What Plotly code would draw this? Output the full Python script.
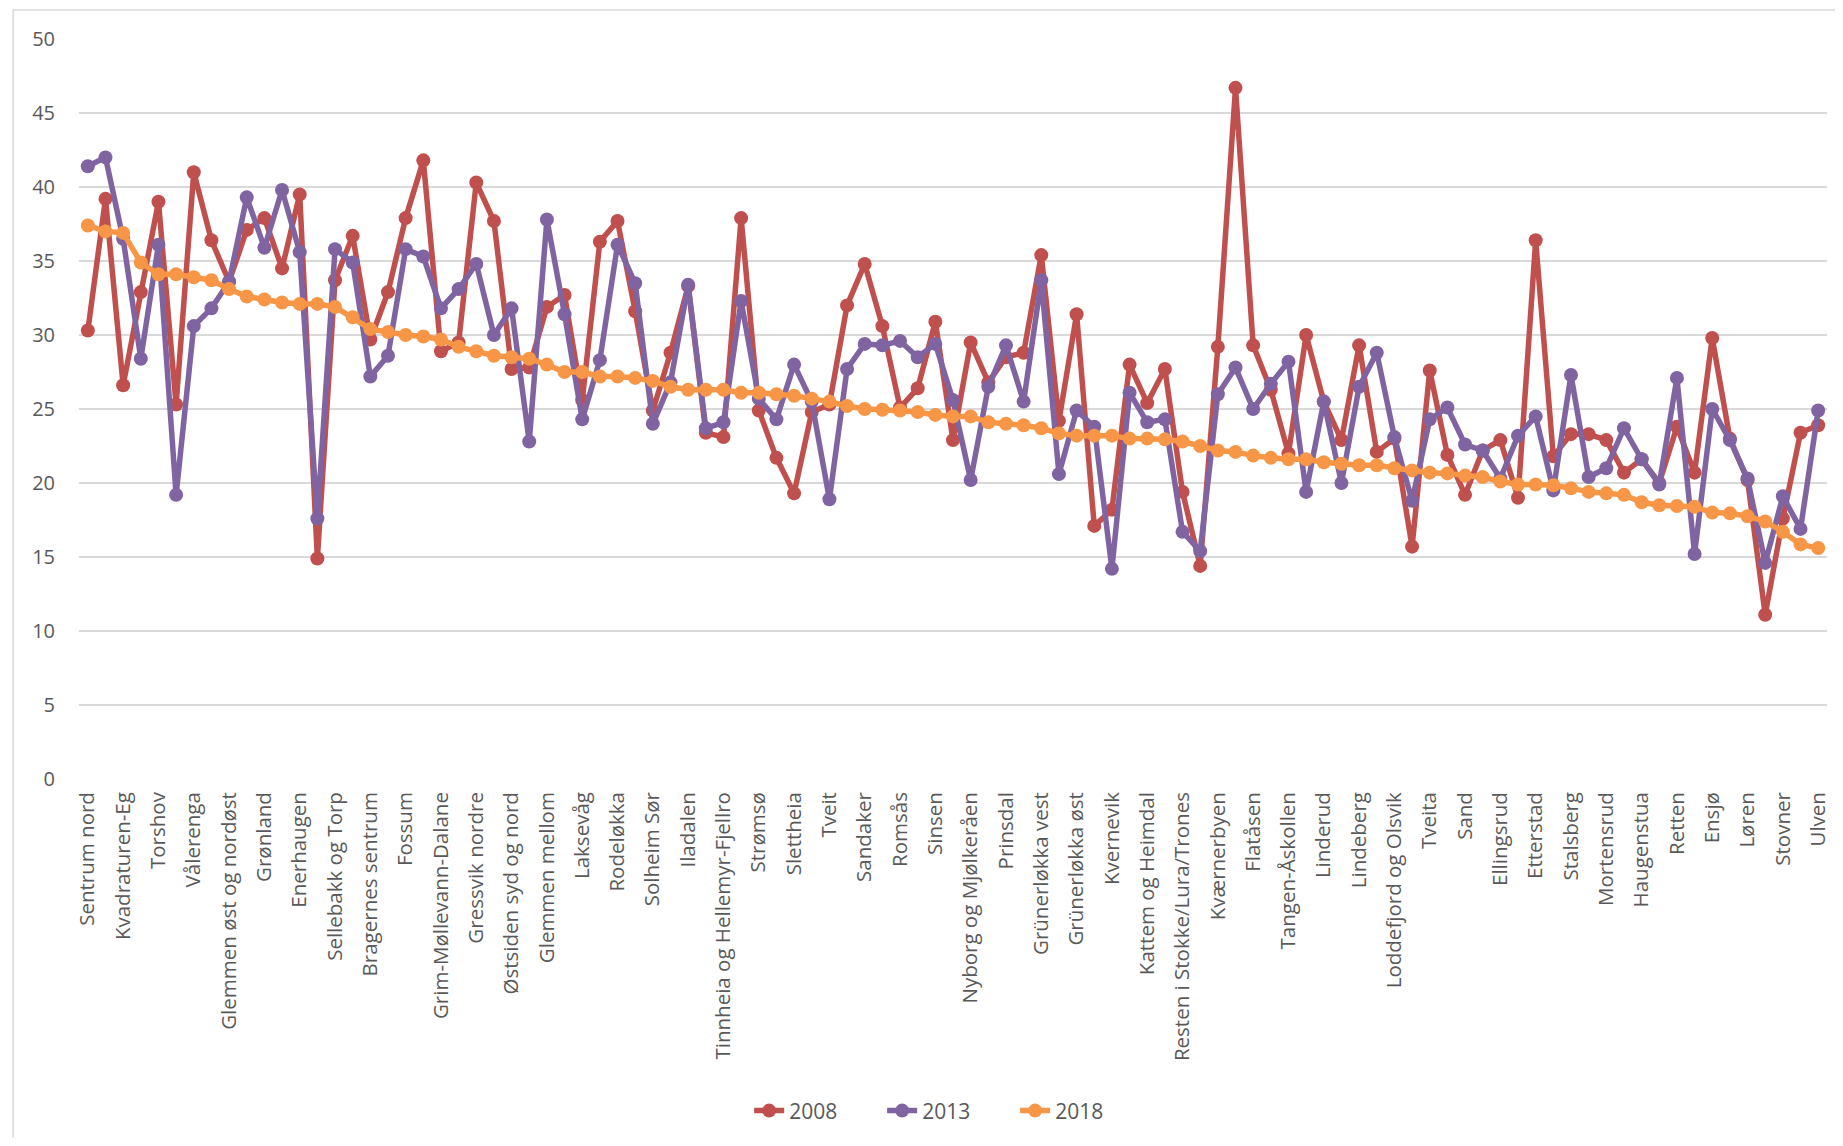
import plotly.graph_objects as go

tick_labels = [
    "Sentrum nord", "Kvadraturen-Eg", "Torshov", "Vålerenga", "Glemmen øst og nordøst",
    "Grønland", "Enerhaugen", "Sellebakk og Torp", "Bragernes sentrum", "Fossum",
    "Grim-Møllevann-Dalane", "Gressvik nordre", "Østsiden syd og nord", "Glemmen mellom", "Laksevåg",
    "Rodeløkka", "Solheim Sør", "Iladalen", "Tinnheia og Hellemyr-Fjellro", "Strømsø",
    "Slettheia", "Tveit", "Sandaker", "Romsås", "Sinsen",
    "Nyborg og Mjølkeråen", "Prinsdal", "Grünerløkka vest", "Grünerløkka øst", "Kvernevik",
    "Kattem og Heimdal", "Resten i Stokke/Lura/Trones", "Kværnerbyen", "Flatåsen", "Tangen-Åskollen",
    "Linderud", "Lindeberg", "Loddefjord og Olsvik", "Tveita", "Sand",
    "Ellingsrud", "Etterstad", "Stalsberg", "Mortensrud", "Haugenstua",
    "Retten", "Ensjø", "Løren", "Stovner", "Ulven",
]

v2008 = [30.3, 39.2, 26.6, 32.9, 39.0, 25.3, 41.0, 36.4, 33.6, 37.1,
         37.9, 34.5, 39.5, 14.9, 33.7, 36.7, 29.7, 32.9, 37.9, 41.8,
         28.9, 29.5, 40.3, 37.7, 27.7, 27.8, 31.9, 32.7, 25.6, 36.3,
         37.7, 31.6, 24.9, 28.8, 33.3, 23.4, 23.1, 37.9, 24.9, 21.7,
         19.3, 24.8, 25.3, 32.0, 34.8, 30.6, 25.1, 26.4, 30.9, 22.9,
         29.5, 26.8, 28.5, 28.8, 35.4, 24.2, 31.4, 17.1, 18.2, 28.0,
         25.4, 27.7, 19.4, 14.4, 29.2, 46.7, 29.3, 26.3, 22.0, 30.0,
         25.5, 22.9, 29.3, 22.1, 23.0, 15.7, 27.6, 21.9, 19.2, 22.2,
         22.9, 19.0, 36.4, 21.8, 23.3, 23.3, 22.9, 20.7, 21.6, 20.0,
         23.8, 20.7, 29.8, 23.0, 20.2, 11.1, 17.6, 23.4, 23.9]

v2013 = [41.4, 42.0, 36.5, 28.4, 36.1, 19.2, 30.6, 31.8, 33.6, 39.3,
         35.9, 39.8, 35.6, 17.6, 35.8, 34.9, 27.2, 28.6, 35.8, 35.3,
         31.8, 33.1, 34.8, 30.0, 31.8, 22.8, 37.8, 31.4, 24.3, 28.3,
         36.1, 33.5, 24.0, 26.8, 33.4, 23.7, 24.1, 32.3, 25.7, 24.3,
         28.0, 25.5, 18.9, 27.7, 29.4, 29.3, 29.6, 28.5, 29.4, 25.6,
         20.2, 26.5, 29.3, 25.5, 33.7, 20.6, 24.9, 23.8, 14.2, 26.1,
         24.1, 24.3, 16.7, 15.4, 26.0, 27.8, 25.0, 26.7, 28.2, 19.4,
         25.5, 20.0, 26.5, 28.8, 23.1, 18.8, 24.3, 25.1, 22.6, 22.2,
         20.3, 23.2, 24.5, 19.5, 27.3, 20.4, 21.0, 23.7, 21.6, 19.9,
         27.1, 15.2, 25.0, 22.9, 20.3, 14.6, 19.1, 16.9, 24.9]

v2018 = [37.4, 37.0, 36.9, 34.9, 34.1, 34.1, 33.9, 33.7, 33.1, 32.6,
         32.4, 32.2, 32.1, 32.1, 31.9, 31.2, 30.4, 30.2, 30.0, 29.9,
         29.7, 29.2, 28.9, 28.6, 28.5, 28.4, 28.0, 27.5, 27.5, 27.2,
         27.2, 27.1, 26.9, 26.5, 26.3, 26.3, 26.3, 26.1, 26.1, 26.0,
         25.9, 25.7, 25.5, 25.2, 25.0, 24.95, 24.9, 24.8, 24.6, 24.5,
         24.5, 24.1, 24.0, 23.9, 23.7, 23.35, 23.2, 23.2, 23.2, 23.0,
         23.0, 22.95, 22.8, 22.5, 22.2, 22.1, 21.85, 21.7, 21.6, 21.6,
         21.4, 21.3, 21.2, 21.2, 21.0, 20.85, 20.7, 20.65, 20.5, 20.4,
         20.1, 19.9, 19.9, 19.85, 19.65, 19.4, 19.3, 19.2, 18.7, 18.5,
         18.45, 18.4, 18.0, 17.95, 17.75, 17.4, 16.7, 15.85, 15.6]

series = [("2008", v2008, "#C0504D"), ("2013", v2013, "#8064A2"), ("2018", v2018, "#F79646")]

x = list(range(len(v2008)))
tickvals = x[::2]

FONT = "Open Sans"
TXT = "#595959"

fig = go.Figure()
for name, vals, col in series:
    fig.add_trace(go.Scatter(
        x=x, y=vals, name=name, mode="lines+markers",
        line=dict(color=col, width=5.5),
        marker=dict(color=col, size=14, symbol="circle"),
    ))

# page has an 8px body margin; figure sized to fit inside the window
OFF = 8
W, H = 1843 - 2 * OFF, 1146 - 2 * OFF
L, T = 79 - OFF, 39 - OFF
R = W - (1831 - OFF)
B = H - (779 - OFF)
pw = W - L - R
ph = H - T - B

fig.update_layout(
    width=W, height=H, autosize=False,
    margin=dict(l=L, r=R, t=T, b=B),
    paper_bgcolor="white", plot_bgcolor="white",
    font=dict(family=FONT, size=19, color=TXT),
    showlegend=True,
    legend=dict(orientation="h", x=0.4975, xanchor="center", y=-0.4486, yanchor="middle",
                font=dict(size=21, color=TXT), entrywidth=88, entrywidthmode="pixels",
                traceorder="normal"),
    xaxis=dict(range=[-0.5, len(x) - 0.5], tickmode="array", tickvals=tickvals,
               ticktext=tick_labels, tickangle=-90, showgrid=False, zeroline=False,
               showline=False, ticks="", tickfont=dict(size=20.5, color=TXT),
               ticklabelstandoff=8, fixedrange=True),
    yaxis=dict(range=[0, 50], tickvals=list(range(0, 51, 5)), showgrid=True,
               gridcolor="#d9d9d9", gridwidth=1.5, zeroline=False, showline=False,
               ticks="", tickfont=dict(size=20, color=TXT), ticklabelstandoff=23),
)

# outer chart-area border (left/top visible; right/bottom run off the page)
bx0, by0 = 13 - OFF, 10 - OFF
fig.add_shape(type="rect", xref="paper", yref="paper",
              x0=(bx0 - L) / pw, x1=(W + 20 - L) / pw,
              y0=(T + ph - (H + 20)) / ph, y1=(T + ph - by0) / ph,
              line=dict(color="#d9d9d9", width=1.5), fillcolor="rgba(0,0,0,0)", layer="below")

fig.write_html("out.html")
